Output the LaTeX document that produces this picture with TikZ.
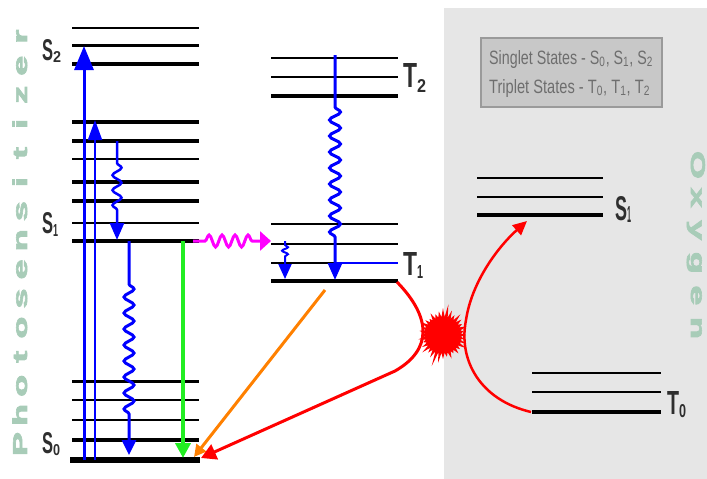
\documentclass[tikz,border=0pt]{standalone}
\usepackage{fontspec}
\setmainfont{Liberation Sans}
\newfontfamily\vfont{Liberation Sans}[BoldFeatures={FakeBold=3}]
\usepackage{graphicx}
\usetikzlibrary{arrows.meta,decorations.pathmorphing}
\definecolor{panel}{HTML}{E6E6E6}
\definecolor{vtext}{HTML}{A8CCB8}
\definecolor{lbl}{HTML}{2E2E2E}
\definecolor{legfill}{HTML}{C8C8C8}
\definecolor{legdraw}{HTML}{9A9A9A}
\definecolor{legtext}{HTML}{6E6E6E}
\definecolor{myblue}{HTML}{0000FF}
\definecolor{mygreen}{HTML}{22EE22}
\definecolor{mymag}{HTML}{FF00FF}
\definecolor{myred}{HTML}{FF0000}
\definecolor{myorange}{HTML}{FF8000}
\begin{document}
\begin{tikzpicture}[x=1pt,y=-1pt,
  vt/.style={text=vtext,font=\vfont\fontsize{20}{20}\selectfont\bfseries,inner sep=0pt},
  lblst/.style={text=lbl,inner sep=0pt,anchor=base west,font=\bfseries},
  legst/.style={text=legtext,inner sep=0pt,anchor=base west}]
\useasboundingbox (0,0) rectangle (707,479);
\fill[panel] (444,8) rectangle (707,479);

% photosensitizer levels
\foreach \y/\w in {28/2.2,45/3,64/4.3,122/3.2,141/3.2,159/2.5,182/3.3,201/4.3,223/2,241/4.3,381/3,400/2.7,420/2,440/3.3}
  \draw[line width=\w pt] (72,\y) -- (199,\y);
\draw[line width=6pt] (70,460) -- (200,460);
% triplet levels
\foreach \y/\w in {58/2.7,77/2.7,96/4,224/2.7,244/2,263/2,281/4.3}
  \draw[line width=\w pt] (271,\y) -- (398,\y);
% oxygen levels
\foreach \y/\w in {178/2,197/2,215/3.2}
  \draw[line width=\w pt] (477,\y) -- (603,\y);
\foreach \y/\w in {373/2,392/2,412/3.2}
  \draw[line width=\w pt] (532,\y) -- (661,\y);

% coordinates
\coordinate (a1s) at (84,460);  \coordinate (a1e) at (84,46);
\coordinate (a2s) at (95,460);  \coordinate (a2e) at (95,120);
\coordinate (w1s) at (117,141); \coordinate (w1e) at (117,240);
\coordinate (w2s) at (129,241); \coordinate (w2e) at (129,455);
\coordinate (gs) at (183,241);  \coordinate (ge) at (183,458);
\coordinate (ms) at (193,241);  \coordinate (me) at (271,241);
\coordinate (ts) at (335,55);   \coordinate (te) at (335,280);
\coordinate (ss) at (285,241);  \coordinate (se) at (285,279);
\coordinate (hbs) at (335,263); \coordinate (hbe) at (398,263);
\coordinate (os) at (325,290);  \coordinate (oe) at (194,457);
\coordinate (T1end) at (397,282); \coordinate (S0r) at (201,458);
\coordinate (T0end) at (531,412); \coordinate (S1ox) at (527,221);
\coordinate (star) at (443,335);

% blue arrows
\draw[myblue,line width=3pt,-{Triangle[width=19pt,length=24pt]}] (a1s) -- (a1e);
\draw[myblue,line width=2pt,-{Triangle[width=14pt,length=20pt]}] (a2s) -- (a2e);
\draw[myblue,line width=2.5pt,-{Triangle[width=14pt,length=17pt]},
  decorate,decoration={snake,amplitude=4.5pt,segment length=15pt,pre length=22pt,post length=30pt}] (w1s) -- (w1e);
\draw[myblue,line width=3pt,-{Triangle[width=14pt,length=15pt]},
  decorate,decoration={snake,amplitude=5pt,segment length=16pt,pre length=43pt,post length=35pt}] (w2s) -- (w2e);
\draw[mygreen,line width=4pt,-{Triangle[width=15pt,length=15pt]}] (gs) -- (ge);
\draw[mymag,line width=3pt,-{Triangle[width=19pt,length=11pt]},
  decorate,decoration={snake,amplitude=6pt,segment length=13pt,pre length=12pt,post length=18pt}] (ms) -- (me);
\draw[myblue,line width=1.5pt] (hbs) -- (hbe);
\draw[myblue,line width=3pt,-{Triangle[width=14pt,length=17pt]},
  decorate,decoration={snake,amplitude=5.5pt,segment length=16pt,pre length=52pt,post length=37pt}] (ts) -- (te);
\draw[myblue,line width=2pt,-{Triangle[width=13pt,length=15pt]},
  decorate,decoration={snake,amplitude=3pt,segment length=7pt,pre length=4pt,post length=20pt}] (ss) -- (se);

% orange and red
\draw[myorange,line width=3pt,-{Triangle[width=12pt,length=12pt]}] (os) -- (oe);
\draw[myred,line width=3pt,-{Triangle[width=16pt,length=15pt]}]
  (T1end) .. controls (432,318) and (432,350) .. (395,371) -- (S0r);
\draw[myred,line width=2.5pt,-{Triangle[width=13pt,length=14pt]}]
  (T0end) .. controls (480,400) and (458,360) .. (466,320) .. controls (472,280) and (500,245) .. (S1ox);
\fill[myred,shift={(star)}] (0:22pt)
  \foreach \r [count=\i from 0] in {23,21,25,22,24,27,23,26,31,27,24,22,25,21,23,26,22,24,22,25,21,24,27,23,26,33,28,24,22,25,21,24,22,26,23,21}
  { -- ({\i*10}:\r pt) -- ({\i*10+5}:18pt) } -- cycle;

% level labels
\node[lblst] (S2lab) at (42,60) {\resizebox{11pt}{21pt}{S}\raisebox{-2pt}{\resizebox{8pt}{11pt}{2}}};
\node[lblst] (S1lab) at (42,233) {\resizebox{11pt}{21pt}{S}\raisebox{-3pt}{\resizebox{5pt}{12pt}{1}}};
\node[lblst] (S0lab) at (42,453) {\resizebox{11pt}{21pt}{S}\raisebox{-2pt}{\resizebox{7pt}{11pt}{0}}};
\node[lblst] (T2lab) at (403,87) {\resizebox{14pt}{24pt}{T}\raisebox{-5pt}{\resizebox{9pt}{13pt}{2}}};
\node[lblst] (T1lab) at (403,275) {\resizebox{14pt}{23pt}{T}\raisebox{-3pt}{\resizebox{6pt}{13pt}{1}}};
\node[lblst] (S1olab) at (615,220) {\resizebox{12pt}{24pt}{S}\raisebox{-2pt}{\resizebox{4pt}{16pt}{1}}};
\node[lblst] (T0lab) at (667,414) {\resizebox{12pt}{23pt}{T}\raisebox{-3pt}{\resizebox{7pt}{13pt}{0}}};

% legend
\node[fill=legfill,draw=legdraw,line width=1.2pt,minimum width=181pt,minimum height=69pt,inner sep=0pt] (leg) at (571.5,72.5) {};
\node[legst] (leg1) at (489,64) {\resizebox{164pt}{14pt}{Singlet States - S\textsubscript{0}, S\textsubscript{1}, S\textsubscript{2}}};
\node[legst] (leg2) at (489,93) {\resizebox{161pt}{14pt}{Triplet States - T\textsubscript{0}, T\textsubscript{1}, T\textsubscript{2}}};

% vertical texts
\foreach \c [count=\i from 0] in {P,h,o,t,o,s,e,n,s,i,t,i,z,e,r}
  \node[vt,rotate=90,anchor=base] (ph\i) at (27,{444-29.1*\i}) {\scalebox{1.8}[1]{\c}};
\foreach \c [count=\i from 0] in {O,x,y,g,e,n}
  \node[vt,rotate=-90,anchor=base] (ox\i) at (691,{165+32.6*\i}) {\scalebox{1.8}[1]{\c}};
\end{tikzpicture}
\end{document}
